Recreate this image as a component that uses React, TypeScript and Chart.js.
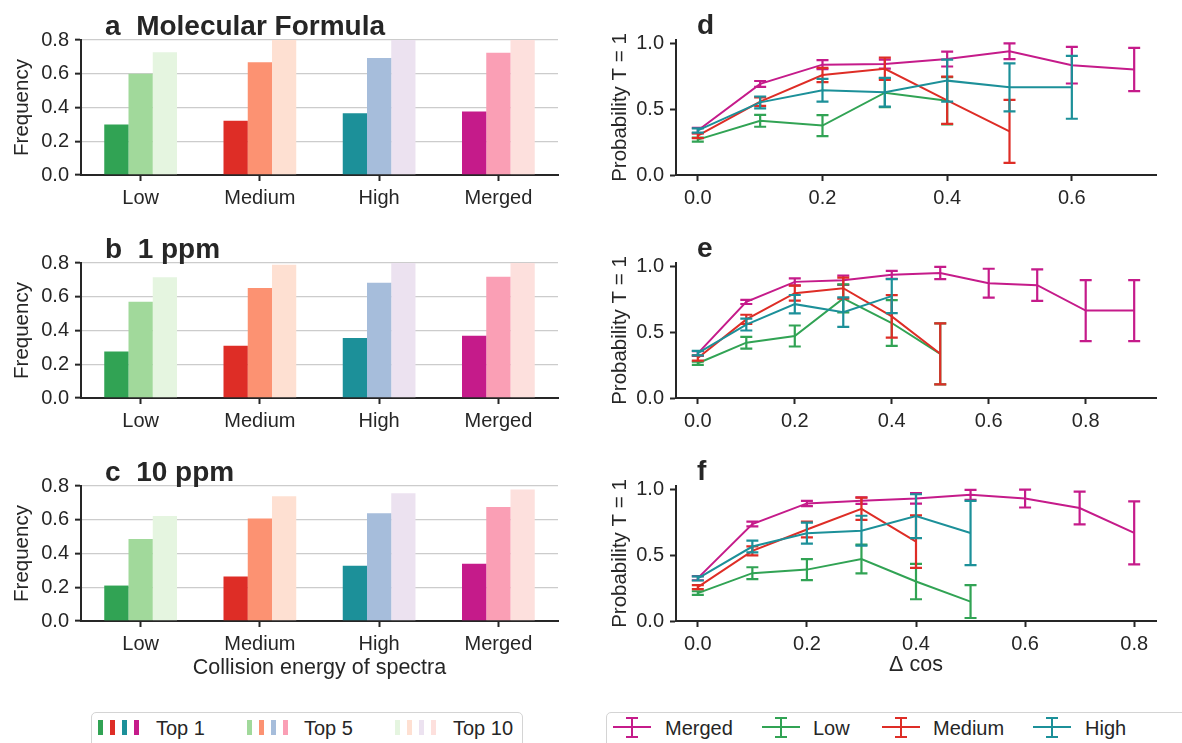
import React, { useEffect, useRef } from 'react';
import { Chart, registerables } from 'chart.js';

Chart.register(...registerables);

const FONT = '"Liberation Sans", Arial, Helvetica, sans-serif';
const INK = '#262626';

// ---------- bar panels (a, b, c) ----------
const categories = ['Low', 'Medium', 'High', 'Merged'];
const topLabels = ['Top 1', 'Top 5', 'Top 10'];
const freqTicks = [0, 0.2, 0.4, 0.6, 0.8];

const formulaTop1 = [0.3, 0.322, 0.366, 0.376];
const formulaTop5 = [0.6, 0.668, 0.694, 0.724];
const formulaTop10 = [0.728, 0.81, 0.82, 0.83];

const ppm1Top1 = [0.275, 0.31, 0.356, 0.369];
const ppm1Top5 = [0.571, 0.652, 0.683, 0.719];
const ppm1Top10 = [0.715, 0.79, 0.81, 0.82];

const ppm10Top1 = [0.21, 0.263, 0.327, 0.339];
const ppm10Top5 = [0.486, 0.608, 0.639, 0.675];
const ppm10Top10 = [0.622, 0.739, 0.757, 0.78];

const top1Colors = ['#31a354', '#de2d26', '#1c9099', '#c51b8a'];
const top5Colors = ['#a1d99b', '#fc9272', '#a6bddb', '#fa9fb5'];
const top10Colors = ['#e5f5e0', '#fee0d2', '#ece2f0', '#fde0dd'];

// ---------- line panels (d, e, f) ----------
const deltaCos = [0, 0.1, 0.2, 0.3, 0.4, 0.5, 0.6, 0.7, 0.8, 0.9];
const probTicks = [0, 0.5, 1.0];
const seriesNames = ['Merged', 'Low', 'Medium', 'High'];
const seriesColors = ['#c51b8a', '#31a354', '#de2d26', '#1c9099'];

const dTicks = [0, 0.2, 0.4, 0.6];
const dMerged = [0.34, 0.695, 0.842, 0.846, 0.885, 0.944, 0.838, 0.805];
const dMergedErr = [0.02, 0.022, 0.035, 0.035, 0.057, 0.06, 0.14, 0.165];
const dLow = [0.27, 0.413, 0.377, 0.628, 0.567];
const dLowErr = [0.015, 0.045, 0.08, 0.11, 0.18];
const dMedium = [0.3, 0.56, 0.763, 0.81, 0.57, 0.333];
const dMediumErr = [0.018, 0.033, 0.055, 0.085, 0.18, 0.24];
const dHigh = [0.34, 0.554, 0.647, 0.631, 0.72, 0.669, 0.669];
const dHighErr = [0.016, 0.045, 0.087, 0.11, 0.16, 0.183, 0.24];

const eTicks = [0, 0.2, 0.4, 0.6, 0.8];
const eMerged = [0.34, 0.733, 0.886, 0.898, 0.94, 0.954, 0.876, 0.861, 0.667, 0.667];
const eMergedErr = [0.018, 0.016, 0.027, 0.035, 0.03, 0.047, 0.11, 0.12, 0.233, 0.233];
const eLow = [0.265, 0.422, 0.473, 0.76, 0.572, 0.337];
const eLowErr = [0.012, 0.045, 0.08, 0.107, 0.175, 0.233];
const eMedium = [0.305, 0.6, 0.8, 0.838, 0.623, 0.337];
const eMediumErr = [0.02, 0.035, 0.057, 0.08, 0.162, 0.233];
const eHigh = [0.342, 0.56, 0.716, 0.655, 0.777];
const eHighErr = [0.017, 0.045, 0.07, 0.112, 0.13];

const fTicks = [0, 0.2, 0.4, 0.6, 0.8];
const fMerged = [0.327, 0.74, 0.897, 0.918, 0.935, 0.963, 0.934, 0.862, 0.672];
const fMergedErr = [0.016, 0.018, 0.02, 0.025, 0.04, 0.038, 0.068, 0.125, 0.24];
const fLow = [0.213, 0.365, 0.392, 0.473, 0.301, 0.148];
const fLowErr = [0.014, 0.045, 0.08, 0.11, 0.135, 0.125];
const fMedium = [0.258, 0.535, 0.698, 0.856, 0.606];
const fMediumErr = [0.015, 0.034, 0.06, 0.085, 0.2];
const fHigh = [0.325, 0.568, 0.67, 0.689, 0.8, 0.672];
const fHighErr = [0.016, 0.045, 0.08, 0.114, 0.167, 0.245];

// ---------- plugins ----------
const panelTitlePlugin = {
  id: 'panelTitle',
  afterDraw(chart: any, _args: any, opts: any) {
    if (!opts || !opts.text) return;
    const ctx = chart.ctx;
    ctx.save();
    ctx.font = `bold ${opts.size}px ${FONT}`;
    ctx.fillStyle = INK;
    ctx.textBaseline = 'alphabetic';
    ctx.textAlign = 'left';
    ctx.fillText(opts.text, opts.x, opts.y);
    ctx.restore();
  },
};

const errorBarPlugin = {
  id: 'errorBars',
  afterDatasetDraw(chart: any, args: any) {
    const ds = chart.data.datasets[args.index];
    if (!ds || !ds.errors) return;
    const xs = chart.scales.x;
    const ys = chart.scales.y;
    const ctx = chart.ctx;
    const cap = 6;
    ctx.save();
    ctx.strokeStyle = ds.borderColor;
    ctx.lineWidth = 2.2;
    ctx.lineCap = 'butt';
    ds.data.forEach((p: any, i: number) => {
      const e = ds.errors[i];
      const px = xs.getPixelForValue(p.x);
      const t = ys.getPixelForValue(p.y + e);
      const b = ys.getPixelForValue(p.y - e);
      ctx.beginPath();
      ctx.moveTo(px, t);
      ctx.lineTo(px, b);
      ctx.moveTo(px - cap, t);
      ctx.lineTo(px + cap, t);
      ctx.moveTo(px - cap, b);
      ctx.lineTo(px + cap, b);
      ctx.stroke();
    });
    ctx.restore();
  },
};

// ---------- components ----------
type BarProps = {
  top: number;
  height: number;
  title: string;
  top1: number[];
  top5: number[];
  top10: number[];
  xTitle?: string;
};

function BarPanel({ top, height, title, top1, top5, top10, xTitle }: BarProps) {
  const ref = useRef<HTMLCanvasElement>(null);
  useEffect(() => {
    const chart = new Chart(ref.current as HTMLCanvasElement, {
      type: 'bar',
      data: {
        labels: categories,
        datasets: [
          { label: topLabels[0], data: top1, backgroundColor: top1Colors, clip: 0 } as any,
          { label: topLabels[1], data: top5, backgroundColor: top5Colors, clip: 0 } as any,
          { label: topLabels[2], data: top10, backgroundColor: top10Colors, clip: 0 } as any,
        ],
      },
      options: {
        responsive: false,
        animation: false,
        layout: { padding: { top: 40, right: 32, left: 0, bottom: 0 } },
        datasets: { bar: { categoryPercentage: 0.61, barPercentage: 1.0 } },
        plugins: {
          legend: { display: false },
          tooltip: { enabled: false },
          panelTitle: { text: title, x: 105, y: 35, size: 28 },
        } as any,
        scales: {
          x: {
            grid: {
              display: true,
              drawOnChartArea: false,
              offset: false,
              tickLength: 6,
              tickColor: INK,
              tickWidth: 2,
            },
            border: { display: true, color: INK, width: 2 },
            ticks: { font: { size: 20, family: FONT }, color: INK, padding: 5, maxRotation: 0 },
            title: xTitle
              ? { display: true, text: xTitle, font: { size: 21.5, family: FONT }, color: INK, padding: { top: 0, bottom: 5 } }
              : { display: false },
            afterFit: (s: any) => {
              s.height = height - 175;
            },
          },
          y: {
            min: 0,
            max: 0.8,
            afterBuildTicks: (s: any) => {
              s.ticks = freqTicks.map((v) => ({ value: v }));
            },
            ticks: {
              callback: (v: any) => Number(v).toFixed(1),
              font: { size: 20, family: FONT },
              color: INK,
              padding: 6,
            },
            grid: { color: '#cccccc', lineWidth: 1.3, tickColor: INK, tickLength: 6, tickWidth: 2 },
            border: { color: INK, width: 2 },
            title: {
              display: true,
              text: 'Frequency',
              font: { size: 20.5, family: FONT },
              color: INK,
              padding: { top: 10, bottom: 0 },
            },
            afterFit: (s: any) => {
              s.width = 81;
            },
          },
        } as any,
      },
      plugins: [panelTitlePlugin],
    });
    return () => chart.destroy();
  }, []);
  return (
    <canvas
      ref={ref}
      width={590}
      height={height}
      style={{ position: 'absolute', left: 0, top, width: 590, height }}
    />
  );
}

type Series = { ys: number[]; errs: number[] };

type LineProps = {
  top: number;
  height: number;
  letter: string;
  xMax: number;
  xTicks: number[];
  series: Series[];
  xTitle?: string;
};

function LinePanel({ top, height, letter, xMax, xTicks, series, xTitle }: LineProps) {
  const ref = useRef<HTMLCanvasElement>(null);
  useEffect(() => {
    const datasets = series.map((s, k) => ({
      label: seriesNames[k],
      data: s.ys.map((y, i) => ({ x: deltaCos[i], y })),
      errors: s.errs,
      borderColor: seriesColors[k],
      backgroundColor: seriesColors[k],
      borderWidth: 2,
      pointRadius: 0,
      tension: 0,
      fill: false,
      order: series.length - 1 - k,
    }));
    const chart = new Chart(ref.current as HTMLCanvasElement, {
      type: 'line',
      data: { datasets: datasets as any },
      options: {
        responsive: false,
        animation: false,
        layout: { padding: { top: 40, right: 26, left: 0, bottom: 0 } },
        plugins: {
          legend: { display: false },
          tooltip: { enabled: false },
          panelTitle: { text: letter, x: 107, y: 34, size: 28 },
        } as any,
        scales: {
          x: {
            type: 'linear',
            min: -0.05 * xMax,
            max: 1.05 * xMax,
            afterBuildTicks: (s: any) => {
              s.ticks = xTicks.map((v) => ({ value: v }));
            },
            ticks: {
              callback: (v: any) => Number(v).toFixed(1),
              font: { size: 20, family: FONT },
              color: INK,
              padding: 5,
              maxRotation: 0,
            },
            grid: { display: true, drawOnChartArea: false, tickLength: 6, tickColor: INK, tickWidth: 2 },
            border: { display: true, color: INK, width: 2 },
            title: xTitle
              ? { display: true, text: xTitle, font: { size: 21.5, family: FONT }, color: INK, padding: { top: 0, bottom: 8 } }
              : { display: false },
            afterFit: (s: any) => {
              s.height = height - 175;
            },
          },
          y: {
            min: 0,
            max: 1.03,
            afterBuildTicks: (s: any) => {
              s.ticks = probTicks.map((v) => ({ value: v }));
            },
            ticks: {
              callback: (v: any) => Number(v).toFixed(1),
              font: { size: 20, family: FONT },
              color: INK,
              padding: 6,
            },
            grid: { display: true, drawOnChartArea: false, tickLength: 6, tickColor: INK, tickWidth: 2 },
            border: { display: true, color: INK, width: 2 },
            title: {
              display: true,
              text: 'Probability T = 1',
              font: { size: 20.5, family: FONT },
              color: INK,
              padding: { top: 18, bottom: 0 },
            },
            afterFit: (s: any) => {
              s.width = 86;
            },
          },
        } as any,
      },
      plugins: [panelTitlePlugin, errorBarPlugin],
    });
    return () => chart.destroy();
  }, []);
  return (
    <canvas
      ref={ref}
      width={592}
      height={height}
      style={{ position: 'absolute', left: 590, top, width: 592, height }}
    />
  );
}

const textStyle: React.CSSProperties = {
  position: 'absolute',
  fontSize: 20,
  lineHeight: '24px',
  color: INK,
  fontFamily: FONT,
  whiteSpace: 'nowrap',
};

function BarLegend() {
  const groups = [
    { colors: top1Colors, x: 98, label: topLabels[0], tx: 156 },
    { colors: top5Colors, x: 247, label: topLabels[1], tx: 304 },
    { colors: top10Colors, x: 395, label: topLabels[2], tx: 453 },
  ];
  return (
    <>
      <div
        style={{
          position: 'absolute',
          left: 91,
          top: 712,
          width: 432,
          height: 50,
          border: '1px solid #d4d4d4',
          borderRadius: 5,
          background: '#fff',
          boxSizing: 'border-box',
        }}
      />
      {groups.map((g) => (
        <React.Fragment key={g.label}>
          {g.colors.map((c, i) => (
            <div
              key={c}
              style={{ position: 'absolute', left: g.x + i * 12, top: 720, width: 5, height: 15, background: c }}
            />
          ))}
          <div style={{ ...textStyle, left: g.tx, top: 716 }}>{g.label}</div>
        </React.Fragment>
      ))}
    </>
  );
}

function LineLegend() {
  const items = [
    { x: 613, tx: 665 },
    { x: 762, tx: 813 },
    { x: 882, tx: 933 },
    { x: 1033, tx: 1085 },
  ];
  return (
    <>
      <div
        style={{
          position: 'absolute',
          left: 606,
          top: 712,
          width: 640,
          height: 50,
          border: '1px solid #d4d4d4',
          borderRadius: 5,
          background: '#fff',
          boxSizing: 'border-box',
        }}
      />
      {items.map((it, k) => {
        const c = seriesColors[k];
        const cx = it.x + 19;
        return (
          <React.Fragment key={seriesNames[k]}>
            <div style={{ position: 'absolute', left: it.x, top: 726, width: 38, height: 2, background: c }} />
            <div style={{ position: 'absolute', left: cx - 1, top: 717, width: 2, height: 21, background: c }} />
            <div style={{ position: 'absolute', left: cx - 6, top: 717, width: 12, height: 2, background: c }} />
            <div style={{ position: 'absolute', left: cx - 6, top: 736, width: 12, height: 2, background: c }} />
            <div style={{ ...textStyle, left: it.tx, top: 716 }}>{seriesNames[k]}</div>
          </React.Fragment>
        );
      })}
    </>
  );
}

export default function App() {
  return (
    <div
      style={{
        position: 'fixed',
        left: 0,
        top: 0,
        width: 1182,
        height: 743,
        overflow: 'hidden',
        background: '#ffffff',
        fontFamily: FONT,
      }}
    >
      <BarPanel top={0} height={223} title="a  Molecular Formula" top1={formulaTop1} top5={formulaTop5} top10={formulaTop10} />
      <BarPanel top={223} height={223} title="b  1 ppm" top1={ppm1Top1} top5={ppm1Top5} top10={ppm1Top10} />
      <BarPanel
        top={446}
        height={240}
        title="c  10 ppm"
        top1={ppm10Top1}
        top5={ppm10Top5}
        top10={ppm10Top10}
        xTitle="Collision energy of spectra"
      />
      <LinePanel
        top={0}
        height={223}
        letter="d"
        xMax={0.7}
        xTicks={dTicks}
        series={[
          { ys: dMerged, errs: dMergedErr },
          { ys: dLow, errs: dLowErr },
          { ys: dMedium, errs: dMediumErr },
          { ys: dHigh, errs: dHighErr },
        ]}
      />
      <LinePanel
        top={223}
        height={223}
        letter="e"
        xMax={0.9}
        xTicks={eTicks}
        series={[
          { ys: eMerged, errs: eMergedErr },
          { ys: eLow, errs: eLowErr },
          { ys: eMedium, errs: eMediumErr },
          { ys: eHigh, errs: eHighErr },
        ]}
      />
      <LinePanel
        top={446}
        height={240}
        letter="f"
        xMax={0.8}
        xTicks={fTicks}
        series={[
          { ys: fMerged, errs: fMergedErr },
          { ys: fLow, errs: fLowErr },
          { ys: fMedium, errs: fMediumErr },
          { ys: fHigh, errs: fHighErr },
        ]}
        xTitle="Δ cos"
      />
      <BarLegend />
      <LineLegend />
    </div>
  );
}
